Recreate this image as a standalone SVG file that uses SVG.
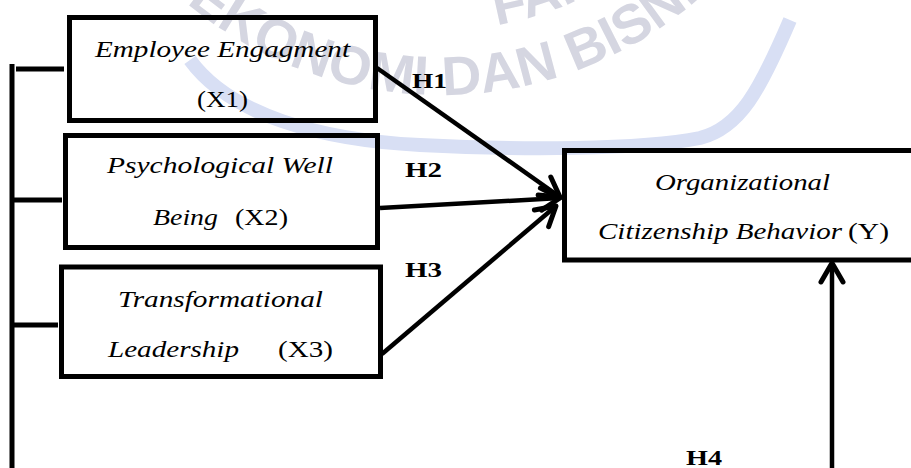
<svg xmlns="http://www.w3.org/2000/svg" width="911" height="468" viewBox="0 0 911 468">
<style>
.box{fill:none;stroke:#000;stroke-width:5}
.ln{fill:none;stroke:#000;stroke-width:5}
.ar{fill:none;stroke:#000;stroke-width:4.5}
.t{font-family:'Times New Roman','Liberation Serif',Tinos,serif;font-size:23.5px;fill:#000}
.i{font-style:italic}
.h{font-family:'Times New Roman','Liberation Serif',Tinos,serif;font-size:21px;font-weight:bold;fill:#000}
.wm{font-family:'Liberation Sans',Arial,sans-serif;font-weight:bold;font-size:55px;fill:#d5d6e1}
</style>
<defs>
<marker id="chev" markerUnits="userSpaceOnUse" markerWidth="40" markerHeight="40" refX="0" refY="0" viewBox="-30 -20 40 40" orient="auto" overflow="visible">
<path d="M-19,-11 L0,0 L-19,11" fill="none" stroke="#000" stroke-width="5" stroke-linecap="round" stroke-linejoin="round"/>
</marker>
<path id="arcA" d="M45,-300 A395,395 0 0 0 835,-300"/>
<path id="arcB" d="M110,-300 A330,330 0 0 0 770,-300"/>
</defs>
<g id="watermark">
<path d="M190,60 C230,115 320,140 420,145 C520,150 640,150 700,138 C740,128 760,90 790,20" fill="none" stroke="#d8dff4" stroke-width="14"/>
<text class="wm"><textPath href="#arcA" startOffset="345">EKONOMI DAN BISNIS</textPath></text>
<text class="wm"><textPath href="#arcB" startOffset="575">FAKULTAS</textPath></text>
</g>
<g id="connectors">
<path class="ln" d="M12,64 V468"/>
<path class="ln" d="M16,69 H64"/>
<path class="ln" d="M14,200 H62"/>
<path class="ln" d="M14,325 H58"/>
<path class="ar" d="M377,68 L560,197" marker-end="url(#chev)"/>
<path class="ar" d="M380,208 L560,198" marker-end="url(#chev)"/>
<path class="ar" d="M382,354 L556,206" marker-end="url(#chev)"/>
<path class="ar" d="M832,468 V263" marker-end="url(#chev)"/>
<text class="h" x="412" y="88" textLength="35" lengthAdjust="spacingAndGlyphs">H1</text>
<text class="h" x="405" y="177" textLength="37" lengthAdjust="spacingAndGlyphs">H2</text>
<text class="h" x="405" y="277" textLength="37" lengthAdjust="spacingAndGlyphs">H3</text>
<text class="h" x="686" y="465" textLength="36" lengthAdjust="spacingAndGlyphs">H4</text>
</g>
<g id="x1">
<rect class="box" x="69.5" y="17.5" width="306" height="103"/>
<text class="t i" x="95" y="57" textLength="255" lengthAdjust="spacingAndGlyphs">Employee Engagment</text>
<text class="t" x="197" y="107" textLength="51" lengthAdjust="spacingAndGlyphs">(X1)</text>
</g>
<g id="x2">
<rect class="box" x="65.5" y="135.5" width="312" height="112"/>
<text class="t i" x="107" y="173" textLength="226" lengthAdjust="spacingAndGlyphs">Psychological Well</text>
<text class="t i" x="153" y="225" textLength="65" lengthAdjust="spacingAndGlyphs">Being</text>
<text class="t" x="235" y="225" textLength="53" lengthAdjust="spacingAndGlyphs">(X2)</text>
</g>
<g id="x3">
<rect class="box" x="61.5" y="267" width="319" height="109.5"/>
<text class="t i" x="118" y="307" textLength="205" lengthAdjust="spacingAndGlyphs">Transformational</text>
<text class="t i" x="108" y="357" textLength="131" lengthAdjust="spacingAndGlyphs">Leadership</text>
<text class="t" x="278" y="357" textLength="55" lengthAdjust="spacingAndGlyphs">(X3)</text>
</g>
<g id="y">
<rect class="box" x="564.5" y="150.5" width="360" height="109.5"/>
<text class="t i" x="655" y="190" textLength="175" lengthAdjust="spacingAndGlyphs">Organizational</text>
<text class="t i" x="598" y="239" textLength="244" lengthAdjust="spacingAndGlyphs">Citizenship Behavior</text>
<text class="t" x="848" y="239" textLength="41" lengthAdjust="spacingAndGlyphs">(Y)</text>
</g>
</svg>
